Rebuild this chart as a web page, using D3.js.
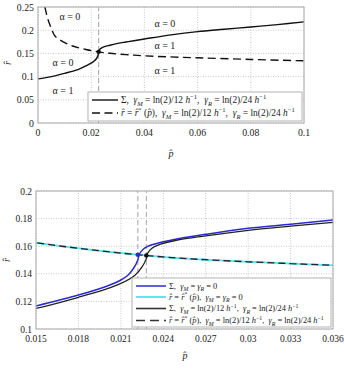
<!DOCTYPE html>
<html>
<head>
<meta charset="utf-8">
<script src="https://cdn.jsdelivr.net/npm/d3@7"></script>
<style>
  body { margin: 0; background: #fff; }
  svg text { fill: #222; white-space: pre; }
</style>
</head>
<body>
<div id="chart"></div>
<script>
// values (p-hat, r-hat)

// Sigma curve, gamma_M = ln(2)/12, gamma_R = ln(2)/24
var sigmaP = [0, 0.005, 0.01, 0.015, 0.018, 0.02, 0.021, 0.022, 0.0225, 0.0228, 0.0229, 0.0232, 0.0238, 0.025, 0.027, 0.03, 0.033, 0.036, 0.04, 0.05, 0.06, 0.07, 0.08, 0.09, 0.1];
var sigmaR = [0.095, 0.1, 0.107, 0.115, 0.123, 0.129, 0.133, 0.139, 0.145, 0.151, 0.155, 0.1585, 0.1615, 0.1645, 0.1675, 0.1715, 0.1745, 0.1773, 0.181, 0.19, 0.197, 0.202, 0.207, 0.212, 0.218];

// Sigma curve, gamma_M = gamma_R = 0
var sigma0P = [0.015, 0.018, 0.02, 0.021, 0.0215, 0.0219, 0.0222, 0.0223, 0.0226, 0.0232, 0.0246, 0.027, 0.03, 0.033, 0.036];
var sigma0R = [0.1167, 0.1246, 0.131, 0.1355, 0.139, 0.144, 0.15, 0.154, 0.158, 0.161, 0.1645, 0.1686, 0.173, 0.1759, 0.179];

// r* (p) curve
var rStarP = [0.0026, 0.0035, 0.0045, 0.0055, 0.0064, 0.0085, 0.0108, 0.013, 0.015, 0.018, 0.021, 0.024, 0.027, 0.03, 0.033, 0.036, 0.045, 0.06, 0.08, 0.1];
var rStarR = [0.25, 0.228, 0.211, 0.197, 0.1875, 0.178, 0.171, 0.166, 0.1625, 0.1585, 0.155, 0.1522, 0.1502, 0.1487, 0.1474, 0.1462, 0.1435, 0.1405, 0.137, 0.134];

// crossing points (p, r)
var crossP = [0.0222, 0.0228];
var crossR = [0.1538, 0.1533];

// ticks
var topXTicks = [0, 0.02, 0.04, 0.06, 0.08, 0.1];
var topYTicks = [0, 0.05, 0.1, 0.15, 0.2, 0.25];
var botXTicks = [0.015, 0.018, 0.021, 0.024, 0.027, 0.03, 0.033, 0.036];
var botYTicks = [0.1, 0.12, 0.14, 0.16, 0.18, 0.2];

// region labels in the top panel
var alphaText = ["α = 0", "α = 0", "α = 1", "α = 0", "α = 1", "α = 1"];
var alphaP = [0.012, 0.0094, 0.0094, 0.0477, 0.0477, 0.0477];
var alphaR = [0.2306, 0.131, 0.071, 0.2155, 0.166, 0.114];

function pts(ps, rs) { return ps.map(function(p, i) { return [p, rs[i]]; }); }

var W = 344, H = 370;
var svg = d3.select("#chart").append("svg").attr("width", W).attr("height", H)
  .style("font-family", "'Liberation Serif', 'DejaVu Serif', serif");

// gamma parts for legend text
var gM = [{t: "γ", i: 1}, {t: "M", sub: 1, i: 1}];
var gR = [{t: "γ", i: 1}, {t: "R", sub: 1, i: 1}];
var gammaNZ = [].concat(gM, [" = ln(2)/12 ", {t: "h", i: 1}, {t: "−1", sup: 1}, ",  "], gR, [" = ln(2)/24 ", {t: "h", i: 1}, {t: "−1", sup: 1}]);
var gammaZ = [].concat(gM, [" = "], gR, [" = 0"]);
var rStarLab = [{t: "r̂", i: 1}, " = ", {t: "r̂", i: 1}, {t: "*", sup: 1}, " (", {t: "p̂", i: 1}, "),  "];

function richText(g, x, y, parts, size) {
  var t = g.append("text").attr("x", x).attr("y", y).attr("font-size", size);
  var shift = 0;
  parts.forEach(function(p) {
    var s = typeof p === "string" ? {t: p} : p;
    var target = s.sub ? size * 0.3 : (s.sup ? -size * 0.4 : 0);
    var ts = t.append("tspan").attr("dy", target - shift).text(s.t);
    shift = target;
    if (s.sub || s.sup) ts.attr("font-size", size * 0.7);
    if (s.i) ts.attr("font-style", "italic");
  });
  return t;
}

// font size so that the text starting at x0 ends at x1
function fitSize(g, parts, x0, x1) {
  var probe = richText(g, 0, -100, parts, 10);
  var w = probe.node().getComputedTextLength();
  probe.remove();
  return 10 * (x1 - x0) / w;
}

function panel(opt) {
  var x = d3.scaleLinear().domain(opt.xd).range(opt.xr);
  var y = d3.scaleLinear().domain(opt.yd).range(opt.yr);
  var g = svg.append("g");
  var id = "clip" + opt.name;

  g.append("clipPath").attr("id", id).append("rect")
    .attr("x", opt.xr[0]).attr("y", opt.yr[1])
    .attr("width", opt.xr[1] - opt.xr[0]).attr("height", opt.yr[0] - opt.yr[1]);

  // grid
  g.selectAll(".gx").data(opt.xt).enter().append("line")
    .attr("x1", function(d) { return x(d); }).attr("x2", function(d) { return x(d); })
    .attr("y1", opt.yr[0]).attr("y2", opt.yr[1])
    .style("stroke", "#bbb").style("stroke-width", 0.8).style("stroke-dasharray", "1,1.5");
  g.selectAll(".gy").data(opt.yt).enter().append("line")
    .attr("y1", function(d) { return y(d); }).attr("y2", function(d) { return y(d); })
    .attr("x1", opt.xr[0]).attr("x2", opt.xr[1])
    .style("stroke", "#bbb").style("stroke-width", 0.8).style("stroke-dasharray", "1,1.5");

  // tick labels
  g.selectAll(".tx").data(opt.xt).enter().append("text")
    .attr("x", function(d) { return x(d); }).attr("y", opt.yr[0] + 13)
    .attr("text-anchor", "middle").attr("font-size", opt.fs)
    .text(function(d) { return d3.format("")(+d.toFixed(3)); });
  g.selectAll(".ty").data(opt.yt).enter().append("text")
    .attr("x", opt.xr[0] - 4).attr("y", function(d) { return y(d) + 3.5; })
    .attr("text-anchor", "end").attr("font-size", opt.fs)
    .text(function(d) { return d3.format("")(+d.toFixed(3)); });

  // axis labels
  g.append("text").attr("x", opt.xlab[0]).attr("y", opt.xlab[1]).attr("font-size", 10)
    .attr("font-style", "italic").attr("text-anchor", "middle").text("p̂");
  g.append("text").attr("transform", "translate(" + opt.ylab[0] + "," + opt.ylab[1] + ") rotate(-90)")
    .attr("font-size", 10).attr("font-style", "italic").attr("text-anchor", "middle").text("r̂");

  // vertical dashed markers
  g.selectAll(".vd").data(opt.vlines).enter().append("line")
    .attr("x1", function(d) { return x(d); }).attr("x2", function(d) { return x(d); })
    .attr("y1", opt.yr[0]).attr("y2", opt.yr[1])
    .style("stroke", "#999").style("stroke-width", 0.9).style("stroke-dasharray", "5,3");

  var line = d3.line().curve(d3.curveCatmullRom.alpha(0.5))
    .x(function(d) { return x(d[0]); }).y(function(d) { return y(d[1]); });

  var cg = g.append("g").attr("clip-path", "url(#" + id + ")");
  opt.series.forEach(function(s) {
    cg.append("path").datum(s.data).attr("d", line)
      .style("fill", "none").style("stroke", s.color).style("stroke-width", s.w)
      .style("stroke-dasharray", s.dash || null);
  });

  opt.dots.forEach(function(d) {
    g.append("circle").attr("cx", x(d.p)).attr("cy", y(d.r)).attr("r", 2.2).style("fill", d.color);
  });

  // frame
  g.append("rect").attr("x", opt.xr[0]).attr("y", opt.yr[1])
    .attr("width", opt.xr[1] - opt.xr[0]).attr("height", opt.yr[0] - opt.yr[1])
    .style("fill", "none").style("stroke", "#aaa").style("stroke-width", 1);

  return {x: x, y: y, g: g};
}

// ---- top panel
var topPanel = panel({
  name: "top", xd: [0, 0.1], yd: [0, 0.25], xr: [38, 304], yr: [123, 7],
  xt: topXTicks, yt: topYTicks, fs: 9.8, xlab: [171, 157], ylab: [11, 63],
  vlines: [crossP[1]],
  series: [
    {data: pts(sigmaP, sigmaR), color: "#111", w: 1.4},
    {data: pts(rStarP, rStarR), color: "#111", w: 1.4, dash: "8,4.5"}
  ],
  dots: [{p: crossP[1], r: crossR[1], color: "#111"}]
});

alphaText.forEach(function(t, i) {
  topPanel.g.append("text").attr("x", topPanel.x(alphaP[i])).attr("y", topPanel.y(alphaR[i]) + 3.5)
    .attr("text-anchor", "middle").attr("font-size", 10).text(t);
});

// top legend
var lgT = topPanel.g.append("g");
lgT.append("rect").attr("x", 88).attr("y", 92).attr("width", 214).attr("height", 29)
  .style("fill", "#fff").style("stroke", "#aaa").style("stroke-width", 0.9);
lgT.append("line").attr("x1", 92).attr("x2", 118).attr("y1", 100).attr("y2", 100)
  .style("stroke", "#111").style("stroke-width", 1.4);
lgT.append("line").attr("x1", 92).attr("x2", 118).attr("y1", 113).attr("y2", 113)
  .style("stroke", "#111").style("stroke-width", 1.4).style("stroke-dasharray", "8,4.5");
var fsT = fitSize(lgT, rStarLab.concat(gammaNZ), 121, 295);
richText(lgT, 121, 103, ["Σ,  "].concat(gammaNZ), fsT);
richText(lgT, 121, 116, rStarLab.concat(gammaNZ), fsT);

// ---- bottom panel
var botPanel = panel({
  name: "bot", xd: [0.015, 0.036], yd: [0.1, 0.2], xr: [36, 333], yr: [329, 191],
  xt: botXTicks, yt: botYTicks, fs: 9.5, xlab: [185, 359], ylab: [10, 260],
  vlines: crossP,
  series: [
    {data: pts(sigma0P, sigma0R), color: "#2a2ad6", w: 1.5},
    {data: pts(rStarP, rStarR), color: "#5fe6ee", w: 2},
    {data: pts(sigmaP, sigmaR), color: "#222", w: 1.3},
    {data: pts(rStarP, rStarR), color: "#222", w: 1.3, dash: "7,4"}
  ],
  dots: [{p: crossP[0], r: crossR[0], color: "#2a2ad6"}, {p: crossP[1], r: crossR[1], color: "#111"}]
});

var lgB = botPanel.g.append("g");
lgB.append("rect").attr("x", 132).attr("y", 278).attr("width", 199).attr("height", 49)
  .style("fill", "#fff").style("stroke", "#aaa").style("stroke-width", 0.9);
var rowsY = [286, 297, 308.5, 320.5];
var rowStyle = [
  {color: "#2a2ad6", w: 1.5, parts: ["Σ,  "].concat(gammaZ)},
  {color: "#5fe6ee", w: 2, parts: rStarLab.concat(gammaZ)},
  {color: "#333", w: 1.6, parts: ["Σ,  "].concat(gammaNZ)},
  {color: "#333", w: 1.6, dash: "9,5", parts: rStarLab.concat(gammaNZ)}
];
var fsB = fitSize(lgB, rowStyle[3].parts, 169, 324);
rowStyle.forEach(function(s, i) {
  lgB.append("line").attr("x1", 136).attr("x2", 166).attr("y1", rowsY[i]).attr("y2", rowsY[i])
    .style("stroke", s.color).style("stroke-width", s.w).style("stroke-dasharray", s.dash || null);
  richText(lgB, 169, rowsY[i] + 2.5, s.parts, fsB);
});
</script>
</body>
</html>
